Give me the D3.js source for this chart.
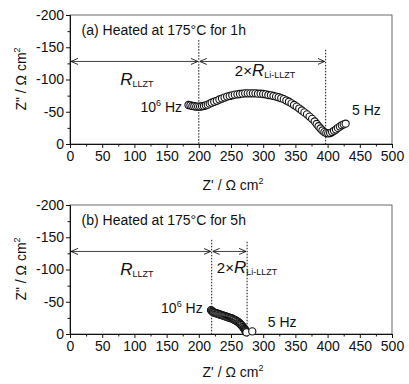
<!DOCTYPE html>
<html>
<head>
<meta charset="utf-8">
<script src="https://cdn.jsdelivr.net/npm/d3@7/dist/d3.min.js"></script>
<style>
  body { margin: 0; background: #fff; }
  text { font-family: "Liberation Sans", Arial, sans-serif; fill: #111; }
</style>
</head>
<body>
<div id="chart"></div>
<script>
// Z' (ohm cm2) and Z'' (ohm cm2) of the two impedance spectra
const zReA = [184, 187, 190, 193, 196, 199, 202, 205, 208, 211, 214, 217, 220, 224, 228, 232, 236, 240, 244, 248,
  252, 256, 260, 264, 268, 272, 276, 280, 284, 288, 292, 296, 300, 304, 308, 312, 316, 320, 324, 328,
  332, 336, 340, 344, 348, 352, 356, 360, 364, 368, 372, 376, 380, 383, 386, 389, 392, 395, 398, 401,
  404, 407, 410, 413, 416, 419, 422, 425, 428];
const zImA = [-60.5, -60, -59, -58.5, -58, -58, -58, -58.5, -59, -60, -61, -62.5, -64, -65.5, -67, -69, -70.5, -72, -73.5, -74.5,
  -75.5, -76.5, -77, -77.5, -78, -78.5, -78.5, -78.5, -78.5, -78.5, -78, -78, -77.5, -77, -76, -75.5, -74.5, -73.5, -72.5, -71,
  -69.5, -67.5, -65.5, -63, -60.5, -58, -55, -52, -49, -46, -42.5, -39, -35, -31, -27.5, -24, -21, -18.5, -17, -16.5,
  -17, -18.5, -20.5, -22.5, -25, -27, -29, -30.5, -31.5];

const zReB = [219, 220, 221, 222, 223, 224.5, 226, 227.5, 229, 230.5, 232, 233.5, 235, 236.5, 238, 239.5, 241, 242.5, 244, 245.5,
  247, 248.5, 250, 251.5, 253, 254.5, 256, 257.5, 259, 260.5, 262, 263, 264, 265, 266, 267, 268, 269, 270, 271,
  271.5, 272, 272.5, 273, 273.5, 274, 283];
const zImB = [-37, -36, -35, -34, -33.5, -33, -32.5, -32, -31.5, -31, -30.5, -30, -29.5, -29, -28.5, -28, -27.5, -27, -26.5, -26,
  -25.5, -25, -24.5, -24, -23, -22.5, -21.5, -21, -20, -19, -18, -17, -16, -15, -14, -13, -11.5, -10.5, -9, -8,
  -7, -6, -5, -4, -3, -2.5, -4];

const xTicks = [0, 50, 100, 150, 200, 250, 300, 350, 400, 450, 500];
const xMinor = [25, 75, 125, 175, 225, 275, 325, 375, 425, 475];
const yTicks = [0, -50, -100, -150, -200];
const yMinor = [-25, -75, -125, -175];

const titles = ["(a) Heated at 175°C for 1h", "(b) Heated at 175°C for 5h"];
const bounds = [[200, 397], [220, 275]];   // dotted lines at R_LLZT and R_LLZT + 2R_Li-LLZT
const arrowY = -128;
const dotTops = [[-161, -146], [-146, -143]];
const twoRLabel = [[256, -105], [228, -95]];
const hfLabel = [[174, -50], [206, -32]];
const lfLabel = [[438, -45], [307, -11]];

const width = 409, height = 384;
const panelTop = [0, 190];
const xTitleY = [190, 187];

const svg = d3.select("#chart").append("svg")
  .attr("width", width)
  .attr("height", height);

const defs = svg.append("defs");
defs.append("marker")
  .attr("id", "arr")
  .attr("viewBox", "0 -4 8 8")
  .attr("refX", 8).attr("refY", 0)
  .attr("markerWidth", 7).attr("markerHeight", 7)
  .attr("markerUnits", "userSpaceOnUse")
  .attr("orient", "auto-start-reverse")
  .append("path")
  .attr("d", "M0,-3.5L8,0L0,3.5")
  .attr("fill", "none")
  .attr("stroke", "#111")
  .attr("stroke-width", 1);

const x = d3.scaleLinear().domain([0, 500]).range([70, 392]);
const y = d3.scaleLinear().domain([0, -200]).range([144, 15]);

const panels = [
  { re: zReA, im: zImA },
  { re: zReB, im: zImB }
];

panels.forEach((p, i) => {
  const g = svg.append("g").attr("transform", "translate(0," + panelTop[i] + ")");

  // frame
  g.append("rect")
    .attr("x", x(0)).attr("y", y(-200))
    .attr("width", x(500) - x(0)).attr("height", y(0) - y(-200))
    .attr("fill", "none").attr("stroke", "#444").attr("stroke-width", 0.8);

  // axes
  g.append("g").attr("transform", "translate(0," + y(0) + ")")
    .call(d3.axisBottom(x).tickValues(xTicks).tickSize(4).tickPadding(3).tickFormat(d3.format("d")));
  g.append("g").attr("transform", "translate(0," + y(0) + ")")
    .call(d3.axisBottom(x).tickValues(xMinor).tickSize(2.5).tickFormat(""))
    .select(".domain").remove();
  g.append("g").attr("transform", "translate(" + x(0) + ",0)")
    .call(d3.axisLeft(y).tickValues(yTicks).tickSize(4).tickPadding(2).tickFormat(d => String(d)));
  g.append("g").attr("transform", "translate(" + x(0) + ",0)")
    .call(d3.axisLeft(y).tickValues(yMinor).tickSize(2.5).tickFormat(""))
    .select(".domain").remove();

  g.selectAll(".tick text").style("font-size", "14px").style("font-family", "'Liberation Sans', Arial, sans-serif").attr("fill", "#111");
  g.selectAll(".domain, .tick line").attr("stroke", "#111");

  // axis titles
  const xt = g.append("text")
    .attr("x", 233).attr("y", xTitleY[i])
    .attr("text-anchor", "middle")
    .style("font-size", "14px");
  xt.append("tspan").text("Z' / Ω cm");
  xt.append("tspan").attr("dy", -6).style("font-size", "9px").text("2");

  const yt = g.append("text")
    .attr("transform", "translate(26," + 79 + ") rotate(-90)")
    .attr("text-anchor", "middle")
    .style("font-size", "14px");
  yt.append("tspan").text("Z\" / Ω cm");
  yt.append("tspan").attr("dy", -6).style("font-size", "9px").text("2");

  // panel title
  g.append("text")
    .attr("x", x(18)).attr("y", y(-169))
    .style("font-size", "14px")
    .text(titles[i]);

  // dotted vertical lines
  g.selectAll(".vline").data(bounds[i]).enter().append("line")
    .attr("x1", d => x(d)).attr("x2", d => x(d))
    .attr("y1", (d, k) => y(dotTops[i][k])).attr("y2", y(0))
    .attr("stroke", "#111").attr("stroke-width", 1)
    .attr("stroke-dasharray", "1.5,1.5");

  // arrows
  const spans = [[0, bounds[i][0]], [bounds[i][0], bounds[i][1]]];
  g.selectAll(".arrow").data(spans).enter().append("line")
    .attr("x1", d => x(d[0]) + 1).attr("x2", d => x(d[1]) - 1)
    .attr("y1", y(arrowY)).attr("y2", y(arrowY))
    .attr("stroke", "#111").attr("stroke-width", 0.8)
    .attr("marker-start", "url(#arr)").attr("marker-end", "url(#arr)");

  // R_LLZT label
  const r1 = g.append("text").attr("x", x(78)).attr("y", y(-91.5));
  r1.append("tspan").style("font-size", "17px").style("font-style", "italic").text("R");
  r1.append("tspan").attr("dy", 2).style("font-size", "9px").text("LLZT");

  // 2 x R_Li-LLZT label
  const r2 = g.append("text").attr("x", x(twoRLabel[i][0])).attr("y", y(twoRLabel[i][1]));
  r2.append("tspan").style("font-size", "15px").text("2×");
  r2.append("tspan").style("font-size", "17px").style("font-style", "italic").text("R");
  r2.append("tspan").attr("dy", 2).style("font-size", "9px").text("Li-LLZT");

  // frequency labels
  const hf = g.append("text").attr("x", x(hfLabel[i][0])).attr("y", y(hfLabel[i][1]))
    .attr("text-anchor", "end").style("font-size", "14px");
  hf.append("tspan").text("10");
  hf.append("tspan").attr("dy", -6).style("font-size", "9px").text("6");
  hf.append("tspan").attr("dy", 6).text(" Hz");

  g.append("text").attr("x", x(lfLabel[i][0])).attr("y", y(lfLabel[i][1]))
    .style("font-size", "14px").text("5 Hz");

  // data points
  g.selectAll(".pt").data(p.re).enter().append("circle")
    .attr("cx", d => x(d))
    .attr("cy", (d, k) => y(p.im[k]))
    .attr("r", 3.6)
    .attr("fill", "#fff")
    .attr("stroke", "#111")
    .attr("stroke-width", 1.1);
});
</script>
</body>
</html>
